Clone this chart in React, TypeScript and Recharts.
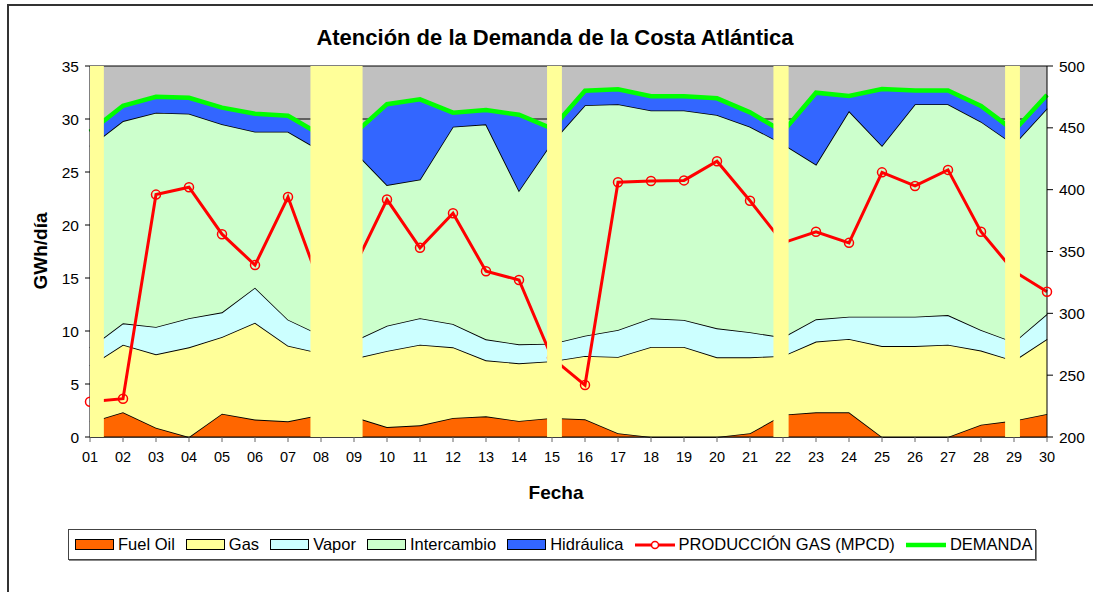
import React from "react";
import {
	ComposedChart,
	Area,
	Line,
	XAxis,
	YAxis,
	CartesianGrid,
	ReferenceArea,
} from "recharts";

// días del mes
const dias = [
	"01", "02", "03", "04", "05", "06", "07", "08", "09", "10",
	"11", "12", "13", "14", "15", "16", "17", "18", "19", "20",
	"21", "22", "23", "24", "25", "26", "27", "28", "29", "30",
];

// GWh/día por recurso (apilados)
const fuelOil = [
	1.4, 2.33, 0.88, 0, 2.2, 1.64, 1.48, 2.1, 1.9, 0.94,
	1.1, 1.79, 1.95, 1.51, 1.8, 1.67, 0.35, 0, 0, 0,
	0.35, 2.1, 2.33, 2.33, 0, 0, 0, 1.16, 1.55, 2.17,
];
const gas = [
	5.3, 6.38, 6.92, 8.46, 7.23, 9.14, 7.14, 5.8, 5.5, 7.17,
	7.61, 6.67, 5.28, 5.44, 5.35, 5.97, 7.2, 8.49, 8.49, 7.52,
	7.17, 5.55, 6.67, 6.92, 8.58, 8.58, 8.71, 6.99, 5.65, 7.08,
];
const vapor = [
	1.7, 2.01, 2.58, 2.74, 2.33, 3.31, 2.45, 1.7, 1.65, 2.39,
	2.49, 2.2, 1.98, 1.79, 1.65, 1.92, 2.55, 2.71, 2.55, 2.73,
	2.36, 1.75, 2.1, 2.1, 2.77, 2.77, 2.79, 1.95, 1.75, 2.35,
];
const intercambio = [
	19.0, 19.08, 20.22, 19.3, 17.74, 14.71, 17.73, 17.4, 17.95, 13.27,
	13.1, 18.62, 20.29, 14.5, 19.0, 21.74, 21.3, 19.6, 19.76, 20.13,
	19.4, 18.25, 14.6, 19.4, 16.13, 20.05, 19.9, 19.65, 18.65, 19.4,
];
const hidraulica = [
	1.4, 1.45, 1.5, 1.5, 1.57, 1.7, 1.5, 1.5, 1.6, 7.63,
	7.55, 1.32, 1.35, 7.16, 1.3, 1.37, 1.4, 1.34, 1.34, 1.57,
	1.35, 1.15, 6.78, 1.42, 5.35, 1.3, 1.3, 1.48, 1.3, 1.26,
];
const demanda = [
	28.8, 31.25, 32.1, 32.0, 31.07, 30.5, 30.3, 28.5, 28.6, 31.4,
	31.85, 30.6, 30.85, 30.4, 29.1, 32.67, 32.8, 32.14, 32.14, 31.95,
	30.63, 28.8, 32.48, 32.17, 32.83, 32.7, 32.7, 31.23, 28.9, 32.26,
];
// MPCD (eje derecho)
const produccionGas = [
	228.5, 231, 396, 402, 364, 339, 394, 321, 337, 392,
	353, 381, 334, 327, 264, 242, 406, 407, 407.5, 423,
	391, 357, 366, 357, 414, 403, 416, 366, 334, 317.5,
];

// franjas de fin de semana / festivos (en días)
const franjas = [
	[1, 1.42],
	[7.68, 9.26],
	[14.85, 15.3],
	[21.71, 22.17],
	[28.73, 29.18],
];

const ticksIzq = [0, 5, 10, 15, 20, 25, 30, 35];
const ticksDer = [200, 250, 300, 350, 400, 450, 500];

const data = dias.map((d, i) => ({
	dia: i + 1,
	fuelOil: fuelOil[i],
	gas: gas[i],
	vapor: vapor[i],
	intercambio: intercambio[i],
	hidraulica: hidraulica[i],
	demanda: demanda[i],
	produccionGas: produccionGas[i],
}));

const areas = [
	{ key: "fuelOil", name: "Fuel Oil", color: "#FF6600" },
	{ key: "gas", name: "Gas", color: "#FFFF99" },
	{ key: "vapor", name: "Vapor", color: "#CCFFFF" },
	{ key: "intercambio", name: "Intercambio", color: "#CCFFCC" },
	{ key: "hidraulica", name: "Hidráulica", color: "#3366FF" },
];

const FONT = "'Liberation Sans', Arial, sans-serif";

const Leyenda: React.FC = () => (
	<div
		style={{
			position: "absolute",
			left: 68,
			top: 529,
			width: 968,
			height: 31,
			border: "1px solid #444",
			boxShadow: "1px 1px 0 #888",
			display: "flex",
			alignItems: "center",
			gap: 11,
			paddingLeft: 6,
			boxSizing: "border-box",
			fontFamily: FONT,
			fontSize: 16.5,
			background: "#fff",
			whiteSpace: "nowrap",
		}}
	>
		{areas.map((a) => (
			<div key={a.key} style={{ display: "flex", alignItems: "center", gap: 4 }}>
				<div
					style={{
						width: 37,
						height: 9,
						background: a.color,
						border: "1.5px solid #000",
					}}
				/>
				<span>{a.name}</span>
			</div>
		))}
		<div style={{ display: "flex", alignItems: "center", gap: 4 }}>
			<svg width={40} height={12}>
				<line x1={0} y1={6} x2={40} y2={6} stroke="#FF0000" strokeWidth={3} />
				<circle cx={20} cy={6} r={3.5} fill="#fff" stroke="#FF0000" strokeWidth={1.5} />
			</svg>
			<span>PRODUCCIÓN GAS (MPCD)</span>
		</div>
		<div style={{ display: "flex", alignItems: "center", gap: 4 }}>
			<svg width={40} height={12}>
				<line x1={0} y1={6} x2={40} y2={6} stroke="#00FF00" strokeWidth={4.5} />
			</svg>
			<span>DEMANDA</span>
		</div>
	</div>
);

const App: React.FC = () => {
	return (
		<div
			style={{
				position: "absolute",
				left: 0,
				top: 0,
				width: 1093,
				height: 592,
				overflow: "hidden",
				background: "#fff",
				fontFamily: FONT,
			}}
		>
			<div
				style={{
					position: "absolute",
					left: 7,
					top: 4,
					width: 1200,
					height: 700,
					borderLeft: "2px solid #333",
					borderTop: "2px solid #333",
				}}
			/>
			<div
				style={{
					position: "absolute",
					left: 0,
					width: 1110,
					top: 25,
					textAlign: "center",
					fontWeight: "bold",
					fontSize: 22,
				}}
			>
				Atención de la Demanda de la Costa Atlántica
			</div>
			<div
				style={{
					position: "absolute",
					left: 41,
					top: 251,
					transform: "translate(-50%, -50%) rotate(-90deg)",
					fontWeight: "bold",
					fontSize: 19,
					whiteSpace: "nowrap",
				}}
			>
				GWh/día
			</div>
			<div
				style={{
					position: "absolute",
					left: 0,
					width: 1112,
					top: 482,
					textAlign: "center",
					fontWeight: "bold",
					fontSize: 19,
				}}
			>
				Fecha
			</div>
			<div style={{ position: "absolute", left: 0, top: 0 }}>
				<ComposedChart
					width={1093}
					height={592}
					data={data}
					margin={{ top: 66, right: 0, bottom: 125, left: 40 }}
					style={{ fontFamily: FONT }}
				>
					<CartesianGrid
						yAxisId="left"
						vertical={false}
						stroke="#000"
						fill="#C0C0C0"
						fillOpacity={1}
					/>
					<XAxis
						dataKey="dia"
						type="number"
						domain={[1, 30]}
						ticks={dias.map((_, i) => i + 1)}
						tickFormatter={(v: number) => dias[v - 1]}
						interval={0}
						height={30}
						tickSize={5}
						tickMargin={10}
						tick={{ fontSize: 14.5, fill: "#000" }}
						axisLine={{ stroke: "#000" }}
						tickLine={{ stroke: "#666" }}
					/>
					<YAxis
						yAxisId="left"
						domain={[0, 35]}
						ticks={ticksIzq}
						interval={0}
						width={50}
						tickSize={5}
						tickMargin={6}
						tick={{ fontSize: 15.5, fill: "#000" }}
						axisLine={{ stroke: "#000" }}
						tickLine={{ stroke: "#000" }}
					/>
					<YAxis
						yAxisId="right"
						orientation="right"
						domain={[200, 500]}
						ticks={ticksDer}
						interval={0}
						width={46}
						tickSize={6}
						tickMargin={6}
						tick={{ fontSize: 15.5, fill: "#000" }}
						axisLine={{ stroke: "#000" }}
						tickLine={{ stroke: "#000" }}
					/>
					{areas.map((a) => (
						<Area
							key={a.key}
							yAxisId="left"
							type="linear"
							dataKey={a.key}
							name={a.name}
							stackId="1"
							stroke="#000"
							strokeWidth={1.7}
							fill={a.color}
							fillOpacity={1}
							dot={false}
							activeDot={false}
							isAnimationActive={false}
						/>
					))}
					<Line
						yAxisId="left"
						type="linear"
						dataKey="demanda"
						name="DEMANDA"
						stroke="#00FF00"
						strokeWidth={4.5}
						dot={false}
						activeDot={false}
						isAnimationActive={false}
					/>
					<Line
						yAxisId="right"
						type="linear"
						dataKey="produccionGas"
						name="PRODUCCIÓN GAS (MPCD)"
						stroke="#FF0000"
						strokeWidth={3}
						dot={{ r: 4.5, stroke: "#FF0000", strokeWidth: 1.5, fill: "none" }}
						activeDot={false}
						isAnimationActive={false}
					/>
					{franjas.map(([x1, x2], i) => (
						<ReferenceArea
							key={i}
							yAxisId="left"
							x1={x1}
							x2={x2}
							y1={0}
							y2={35}
							fill="#FFFF99"
							fillOpacity={1}
							stroke="none"
							ifOverflow="visible"
							zIndex={1000}
						/>
					))}
				</ComposedChart>
			</div>
			<Leyenda />
		</div>
	);
};

export default App;
